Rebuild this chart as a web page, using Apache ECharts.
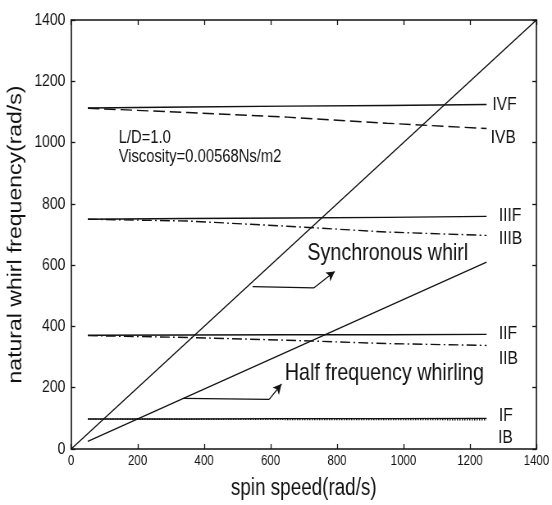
<!DOCTYPE html>
<html>
<head>
<meta charset="utf-8">
<style>
  html, body { margin: 0; padding: 0; background: #fff; overflow: hidden; }
  #wrap { width: 552px; height: 505px; overflow: hidden; }
  /* the figure is drawn on a wider canvas and condensed horizontally */
  #chart { width: 673px; height: 505px; transform: scaleX(0.8202); transform-origin: 0 0; }
</style>
<script src="https://cdn.jsdelivr.net/npm/echarts@6/dist/echarts.min.js"></script>
</head>
<body>
<div id="wrap"><div id="chart"></div></div>
<script>
// Natural whirl frequencies of a journal-bearing rotor vs spin speed
const spinSpeed = [50, 350, 650, 950, 1250];
const modeIVF  = [1113, 1116, 1119, 1121, 1124];
const modeIVB  = [1112, 1098, 1083, 1063, 1046];
const modeIIIF = [750, 752, 754, 756, 759];
const modeIIIB = [750, 744, 727, 708, 697];
const modeIIF  = [371, 372, 373, 373, 374];
const modeIIB  = [370, 364, 355, 344, 338];
const modeIF   = [98, 98, 99, 99, 100];
const modeIB   = [97.5, 97, 96.5, 96, 95.5];

const syncSpeed = [0, 1400];
const syncFreq  = [0, 1400];
const halfSpeed = [50, 1250];
const halfFreq  = [25, 610];

const axisMin = 0, axisMax = 1400, axisStep = 200;

const FONT = "'Liberation Sans', Arial, Helvetica, sans-serif";
const INK = '#121212';

function pairs(xs, ys) { return xs.map((x, i) => [x, ys[i]]); }

function modeSeries(name, ys, dash, labelOffset) {
  return {
    name: name,
    type: 'line',
    data: pairs(spinSpeed, ys),
    showSymbol: false,
    symbol: 'none',
    silent: true,
    lineStyle: { color: INK, width: 1.4, type: dash },
    endLabel: {
      show: true,
      formatter: name,
      color: INK,
      fontFamily: FONT,
      fontSize: 19,
      distance: 4,
      offset: labelOffset
    },
    z: 3
  };
}

const chart = echarts.init(document.getElementById('chart'), null, { renderer: 'canvas' });

const axisCommon = {
  type: 'value',
  min: axisMin,
  max: axisMax,
  interval: axisStep,
  splitLine: { show: false },
  axisLine: { show: true, onZero: false, lineStyle: { color: INK, width: 1.6 } },
  axisTick: { show: true, inside: true, length: 5, lineStyle: { color: INK, width: 1.3 } }
};

const plain = v => String(v);

chart.setOption({
  animation: false,
  backgroundColor: '#fff',
  grid: { left: 84, right: 19, top: 20, bottom: 54, containLabel: false },
  xAxis: [
    Object.assign({}, axisCommon, {
      position: 'bottom',
      name: 'spin speed(rad/s)',
      nameLocation: 'middle',
      nameGap: 28,
      nameTextStyle: { fontFamily: FONT, fontSize: 23, color: INK },
      axisLabel: { fontFamily: FONT, fontSize: 14, color: INK, margin: 5, formatter: plain }
    }),
    Object.assign({}, axisCommon, {
      position: 'top',
      axisLabel: { show: false }
    })
  ],
  yAxis: [
    Object.assign({}, axisCommon, {
      position: 'left',
      name: 'natural whirl frequency(rad/s)',
      nameLocation: 'middle',
      nameRotate: 90,
      nameGap: 45,
      nameTextStyle: { fontFamily: FONT, fontSize: 23, color: INK },
      axisLabel: { fontFamily: FONT, fontSize: 17, color: INK, margin: 7, formatter: plain }
    }),
    Object.assign({}, axisCommon, {
      position: 'right',
      axisLabel: { show: false }
    })
  ],
  series: [
    {
      name: 'Synchronous whirl',
      type: 'line',
      data: pairs(syncSpeed, syncFreq),
      showSymbol: false,
      symbol: 'none',
      silent: true,
      lineStyle: { color: INK, width: 1.4 },
      markLine: {
        silent: true,
        symbol: ['none', 'none'],
        label: { show: false },
        lineStyle: { color: INK, width: 1.3, type: 'solid' },
        emphasis: { disabled: true },
        data: [
          [{ coord: [546, 530] }, { coord: [731, 526] }],
          [{ coord: [731, 526] }, { coord: [793, 579], symbol: 'arrow', symbolSize: [8, 10] }]
        ]
      }
    },
    {
      name: 'Half frequency whirling',
      type: 'line',
      data: pairs(halfSpeed, halfFreq),
      showSymbol: false,
      symbol: 'none',
      silent: true,
      lineStyle: { color: INK, width: 1.4 },
      markLine: {
        silent: true,
        symbol: ['none', 'none'],
        label: { show: false },
        lineStyle: { color: INK, width: 1.3, type: 'solid' },
        emphasis: { disabled: true },
        data: [
          [{ coord: [337, 165] }, { coord: [596, 162] }],
          [{ coord: [596, 162] }, { coord: [633, 212], symbol: 'arrow', symbolSize: [8, 10] }]
        ]
      }
    },
    modeSeries('IVF', modeIVF, 'solid', [3, 0]),
    modeSeries('IVB', modeIVB, [14, 6], [1, 9]),
    modeSeries('IIIF', modeIIIF, 'solid', [11, -1]),
    modeSeries('IIIB', modeIIIB, [12, 4, 2, 4], [11, 3]),
    modeSeries('IIF', modeIIF, 'solid', [11, -1]),
    modeSeries('IIB', modeIIB, [12, 4, 2, 4], [11, 13]),
    modeSeries('IF', modeIF, 'solid', [11, -3]),
    modeSeries('IB', modeIB, [1.5, 1.5], [10, 18])
  ]
});

// Annotation texts anchored in data coordinates (left edge, vertical middle)
const notes = [
  { text: 'L/D=1.0', at: [143, 1016], size: 18 },
  { text: 'Viscosity=0.00568Ns/m2', at: [143, 953], size: 18 },
  { text: 'Synchronous whirl', at: [711, 637], size: 24 },
  { text: 'Half frequency whirling', at: [643, 248], size: 24 }
];

chart.setOption({
  graphic: notes.map(n => {
    const p = chart.convertToPixel({ xAxisIndex: 0, yAxisIndex: 0 }, n.at);
    return {
      type: 'text',
      x: p[0],
      y: p[1],
      silent: true,
      z: 10,
      style: {
        text: n.text,
        fill: INK,
        font: n.size + 'px ' + FONT,
        align: 'left',
        verticalAlign: 'middle'
      }
    };
  })
});
</script>
</body>
</html>
